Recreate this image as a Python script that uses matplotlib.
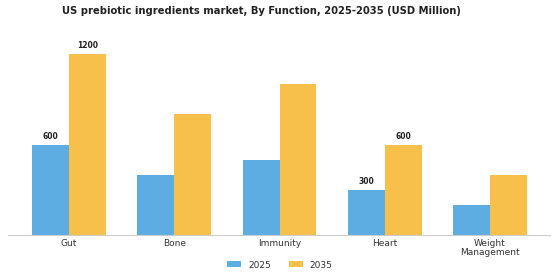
import matplotlib
matplotlib.use("Agg")
import matplotlib.pyplot as plt
import numpy as np

categories = ["Gut", "Bone", "Immunity", "Heart", "Weight\nManagement"]
values_2025 = [600, 400, 500, 300, 200]
values_2035 = [1200, 800, 1000, 600, 400]
series_names = ["2025", "2035"]
labeled = [0, 3]

c2025 = "#5DADE2"
c2035 = "#F7C04A"

fig = plt.figure(figsize=(5.6, 2.8), dpi=100)
ax = fig.add_axes([8/560, 45/280, 542/560, 195/280])
x = np.arange(len(categories))
w = 0.35
b1 = ax.bar(x - w/2, values_2025, w, color=c2025, label=series_names[0])
b2 = ax.bar(x + w/2, values_2035, w, color=c2035, label=series_names[1])
ax.set_xlim(-0.58, 4.57)
ax.set_ylim(0, 1200 * 195 / 181)
for i in labeled:
    ax.text(x[i] - w/2, values_2025[i] + 25, str(values_2025[i]), ha="center", va="bottom",
            fontsize=5.5, fontweight="bold", color="#222222")
    ax.text(x[i] + w/2, values_2035[i] + 25, str(values_2035[i]), ha="center", va="bottom",
            fontsize=5.5, fontweight="bold", color="#222222")
for s in ["top", "right", "left"]:
    ax.spines[s].set_visible(False)
ax.spines["bottom"].set_color("#cccccc")
ax.set_yticks([])
ax.set_xticks(x)
ax.set_xticklabels(categories, fontsize=6.5, color="#333333", linespacing=1.0)
ax.tick_params(axis="x", length=0, pad=3)
fig.suptitle("US prebiotic ingredients market, By Function, 2025-2035 (USD Million)",
             fontsize=7.2, fontweight="bold", color="#222222", y=0.978, x=0.466)
fig.legend(handles=[b1, b2], labels=series_names, loc="center", bbox_to_anchor=(0.5, 15/280),
           ncol=2, frameon=False, fontsize=6.5, handlelength=1.5, handleheight=0.6, columnspacing=2.0,
           labelcolor="#333333")
fig.savefig("out.png", dpi=100)
